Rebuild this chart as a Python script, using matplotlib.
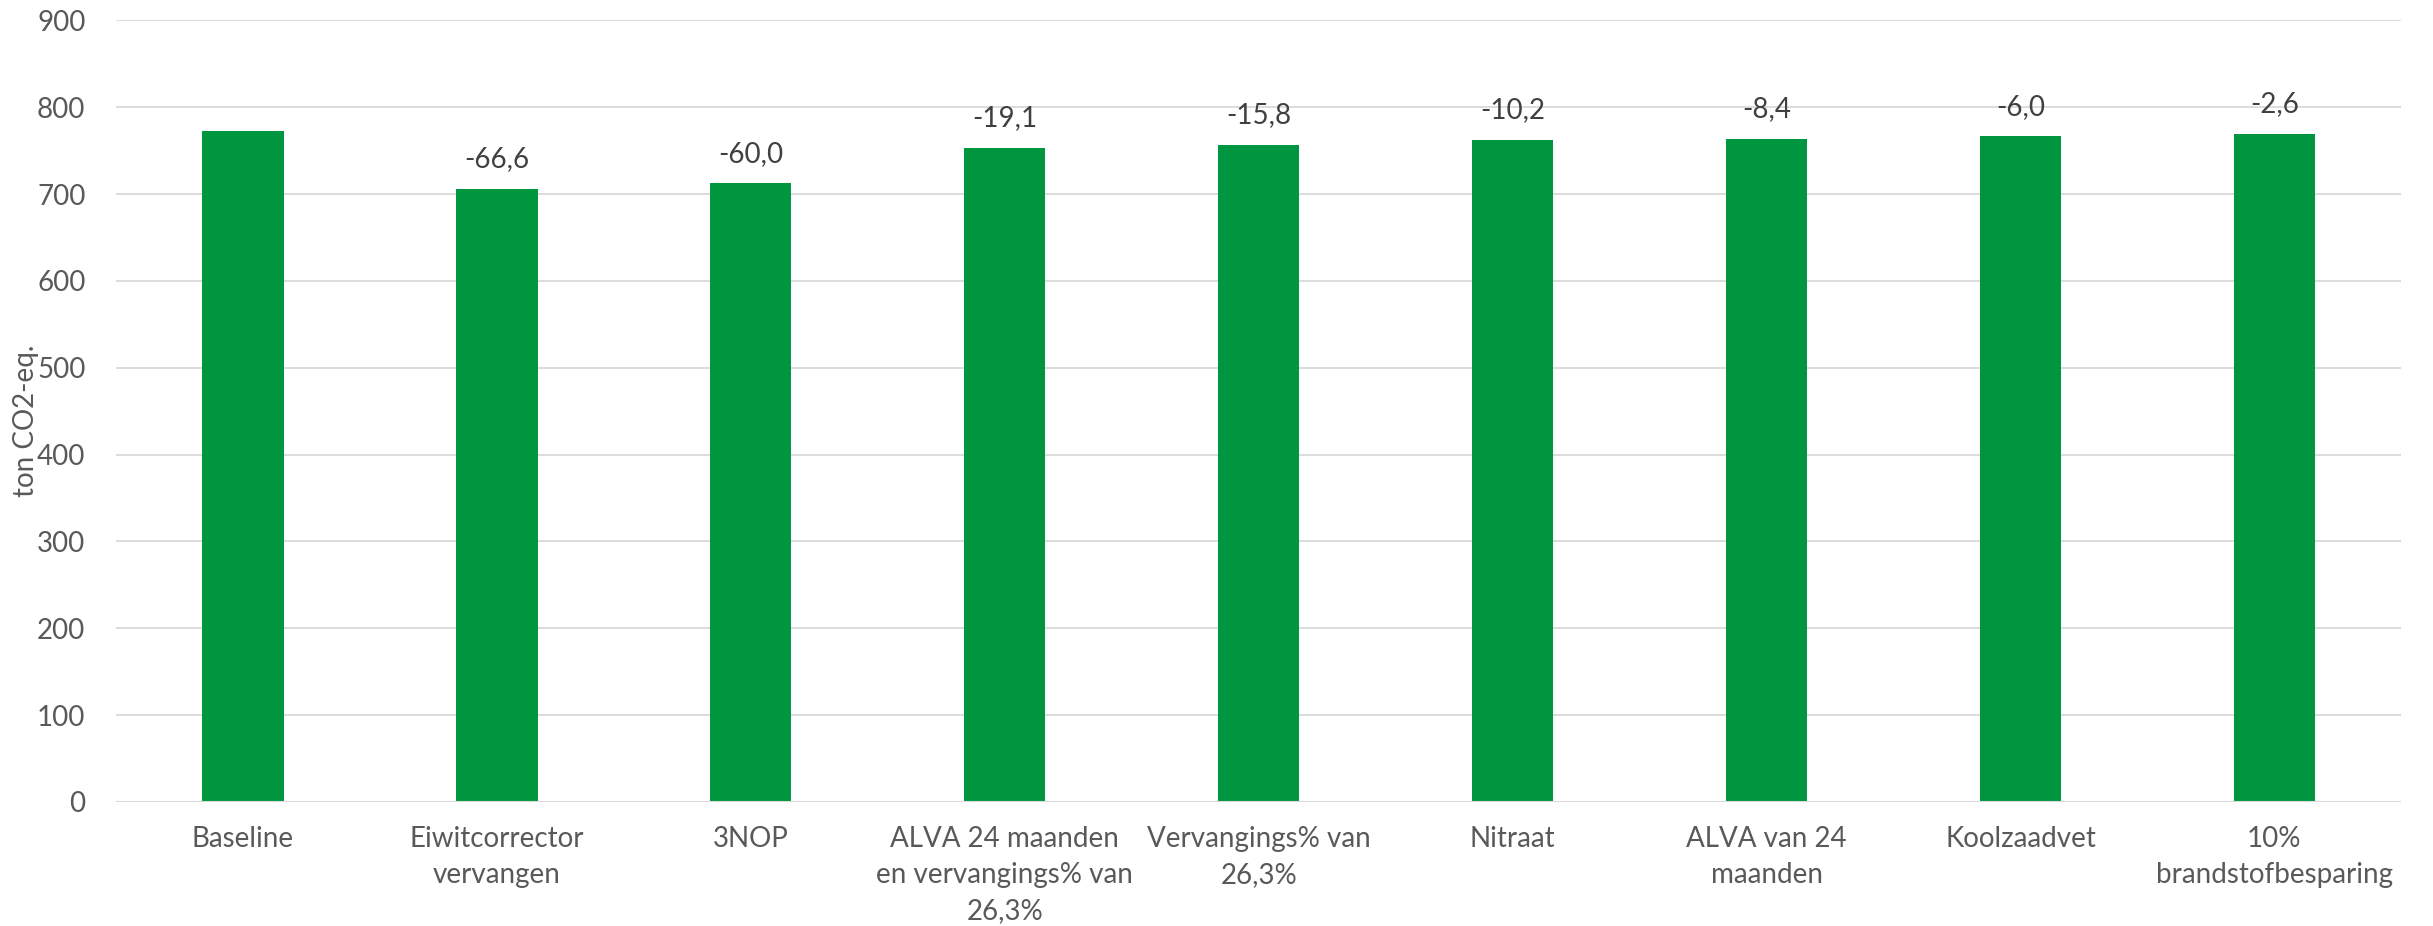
import matplotlib
matplotlib.use("Agg")
import matplotlib.pyplot as plt

plt.rcParams["font.family"] = ["Lato", "DejaVu Sans"]

categories = [
    "Baseline",
    "Eiwitcorrector\nvervangen",
    "3NOP",
    "ALVA 24 maanden\nen vervangings% van\n26,3%",
    "Vervangings% van\n26,3%",
    "Nitraat",
    "ALVA van 24\nmaanden",
    "Koolzaadvet",
    "10%\nbrandstofbesparing",
]
emissions = [772.3, 705.7, 712.3, 753.2, 756.5, 762.1, 763.9, 766.3, 769.7]
reductions = [None, -66.6, -60.0, -19.1, -15.8, -10.2, -8.4, -6.0, -2.6]

fig = plt.figure(figsize=(24.33, 9.26), dpi=100)
ax = fig.add_axes([0.0477, 0.134, 0.9393, 0.844])

x = range(len(categories))
ax.bar(x, emissions, width=0.32, color="#00963F", zorder=3)

for i, r in enumerate(reductions):
    if r is None:
        continue
    ax.annotate(f"{r:.1f}".replace(".", ","), (i, emissions[i]),
                xytext=(0, 12), textcoords="offset points",
                ha="center", va="bottom", fontsize=20, color="#404040")

ax.set_ylim(0, 900)
ax.set_xlim(-0.5, len(categories) - 0.5)
ax.set_yticks(range(0, 901, 100))
ax.grid(axis="y", color="#D9D9D9", linewidth=1.3, zorder=0)
for s in ["top", "right", "left", "bottom"]:
    ax.spines[s].set_visible(False)
ax.axhline(0, color="#D9D9D9", linewidth=1.5, zorder=4)

ax.set_xticks(list(x))
ax.set_xticklabels(categories, fontsize=20, color="#595959", linespacing=1.5)
ax.tick_params(axis="x", length=0, pad=17)
ax.tick_params(axis="y", length=0, pad=22, labelsize=20, labelcolor="#595959")
fig.text(0.0105, 0.546, "ton CO2-eq.", rotation=90,
         ha="center", va="center", fontsize=20, color="#595959")

fig.savefig("out.png", dpi=100)
